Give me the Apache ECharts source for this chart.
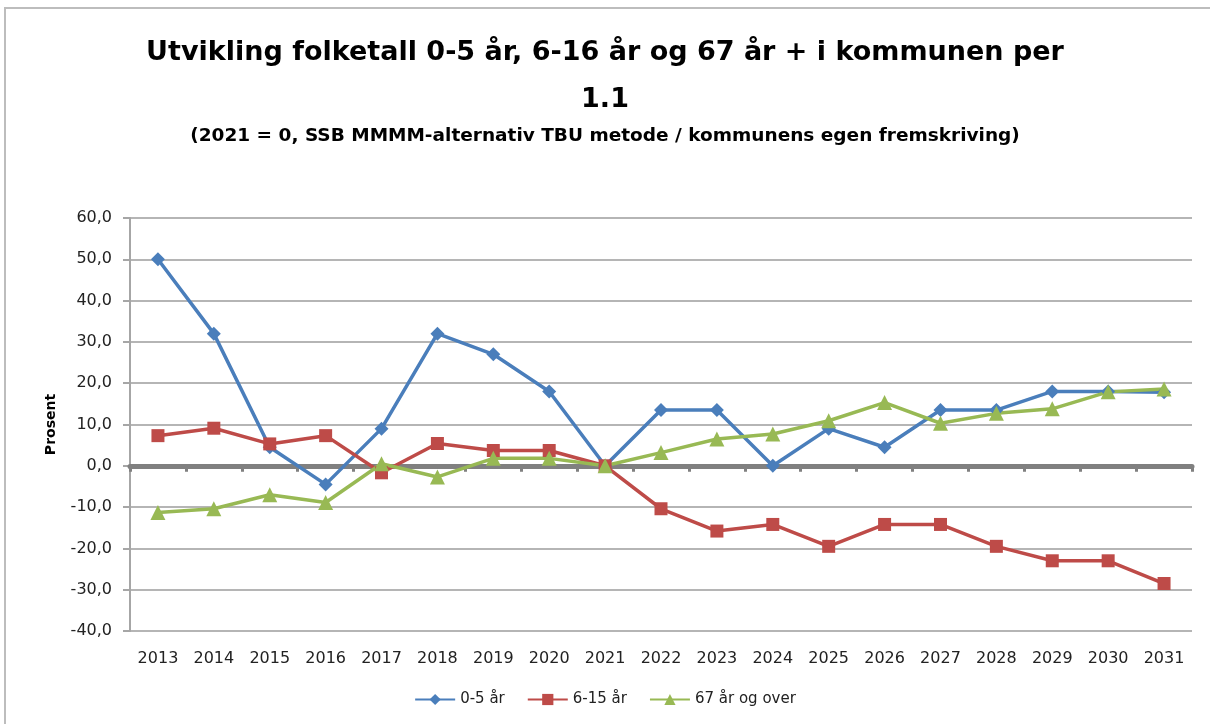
<!DOCTYPE html>
<html><head><meta charset="utf-8">
<script src="https://cdn.jsdelivr.net/npm/echarts@6/dist/echarts.min.js"></script>
<style>html,body{margin:0;padding:0;background:#fff}#c{width:1210px;height:724px}</style>
</head><body><div id="c"></div>
<script>
const years = ['2013','2014','2015','2016','2017','2018','2019','2020','2021','2022','2023','2024','2025','2026','2027','2028','2029','2030','2031'];
const age0_5 = [50.0, 32.0, 4.5, -4.5, 9.0, 32.0, 27.0, 18.0, 0.0, 13.5, 13.5, 0.0, 9.0, 4.5, 13.5, 13.5, 18.0, 18.0, 17.8];
const age6_15 = [7.3, 9.1, 5.3, 7.3, -1.7, 5.4, 3.7, 3.7, 0.0, -10.4, -15.8, -14.2, -19.5, -14.2, -14.2, -19.5, -23.0, -23.0, -28.5];
const age67 = [-11.3, -10.4, -7.0, -8.9, 0.5, -2.7, 1.8, 1.8, 0.0, 3.2, 6.5, 7.7, 10.9, 15.3, 10.3, 12.7, 13.8, 17.9, 18.6];
const seriesNames = ['0-5 år', '6-15 år', '67 år og over'];
const yTicks = {min: -40, max: 60, interval: 10};

const chart = echarts.init(document.getElementById('c'));
const font = 'DejaVu Sans';
const mk = (name, data, color, symbol, size) => ({
  name, type: 'line', data, xAxisIndex: 0,
  symbol, symbolSize: size,
  lineStyle: {color, width: 3.5},
  itemStyle: {color},
  z: 5
});
chart.setOption({
  animation: false,
  graphic: [{type: 'rect', shape: {x: 5, y: 8, width: 1215, height: 730},
    style: {fill: 'none', stroke: '#bdbdbd', lineWidth: 2}, z: -10}],
  title: [
    {text: 'Utvikling folketall 0-5 år, 6-16 år og 67 år + i kommunen per\n1.1', left: 'center', top: 24,
      textStyle: {fontFamily: 'DejaVu Sans', fontWeight: 'bold', fontSize: 27, lineHeight: 47, color: '#000'}},
    {text: '(2021 = 0, SSB MMMM-alternativ TBU metode / kommunens egen fremskriving)', left: 'center', top: 122,
      textStyle: {fontFamily: 'DejaVu Sans', fontWeight: 'bold', fontSize: 18.5, color: '#000'}}
  ],
  legend: {
    bottom: 12, left: 'center', itemWidth: 40, itemHeight: 14, itemGap: 22,
    textStyle: {fontFamily: font, fontSize: 15, color: '#222'},
    data: seriesNames
  },
  grid: {left: 130, right: 18, top: 218, bottom: 93, containLabel: false},
  xAxis: [
    {type: 'category', data: years, position: 'bottom', boundaryGap: true,
      axisLine: {show: false, onZero: false}, axisTick: {show: false},
      axisLabel: {fontFamily: font, fontSize: 16, color: '#222', margin: 20, interval: 0}},
    {type: 'category', data: years, position: 'bottom', boundaryGap: true,
      axisLine: {show: true, onZero: true, lineStyle: {color: '#808080', width: 5}},
      axisTick: {show: true, length: 6, interval: 0, lineStyle: {color: '#808080', width: 3}},
      axisLabel: {show: false}, z: 3}
  ],
  yAxis: {
    type: 'value', min: yTicks.min, max: yTicks.max, interval: yTicks.interval,
    name: 'Prosent', nameLocation: 'middle', nameGap: 72, nameRotate: 90,
    nameTextStyle: {fontFamily: font, fontWeight: 'bold', fontSize: 14, color: '#000'},
    axisLine: {show: true, lineStyle: {color: '#a6a6a6', width: 2}},
    axisTick: {show: true, length: 7, lineStyle: {color: '#a6a6a6', width: 2}},
    splitLine: {lineStyle: {color: '#b5b5b5', width: 2}},
    axisLabel: {fontFamily: font, fontSize: 16, color: '#222', margin: 18,
      formatter: v => v.toFixed(1).replace('.', ',')}
  },
  series: [
    mk(seriesNames[0], age0_5, '#4A7EBB', 'diamond', 14),
    mk(seriesNames[1], age6_15, '#BE4B48', 'rect', 13),
    mk(seriesNames[2], age67, '#98B954', 'triangle', 15)
  ]
});
</script></body></html>
